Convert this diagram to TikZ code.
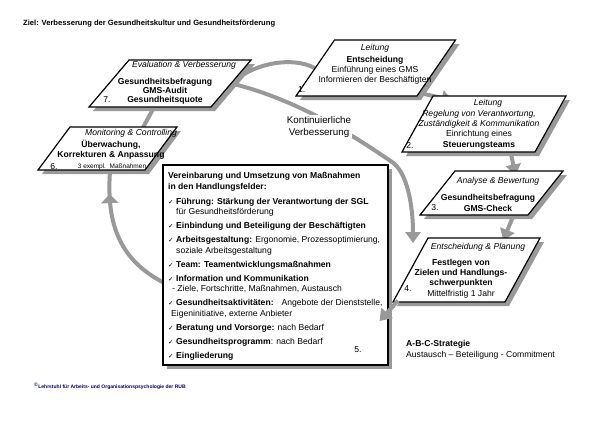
\documentclass[tikz,border=0pt]{standalone}
\usepackage{fontspec}
\setmainfont{Liberation Sans}
\newfontfamily\symfnt{DejaVu Sans}
\usetikzlibrary{arrows.meta,shadows,calc,backgrounds,decorations.markings}

\newcommand{\bxfont}{\fontsize{8.6}{10.2}\selectfont}
\newcommand{\chk}{{\symfnt\fontsize{6.5}{10}\selectfont ✓}\hspace{2.5pt}}

\begin{document}
\begin{tikzpicture}[x=1pt, y=-1pt,
    para/.style = {draw, line width=1.2pt, fill=white, inner sep=0pt,
      drop shadow={shadow xshift=4pt, shadow yshift=-4pt, fill=black!40, opacity=1}},
    flow/.style = {draw=black!40, line width=4pt},
    flowhead/.style = {flow, -{Triangle[width=15pt, length=11pt]}},
    hd/.style = {font=\bxfont\itshape, inner sep=0pt},
    txt/.style = {font=\bxfont, align=center, inner sep=0pt},
    nr/.style = {font=\bxfont, inner sep=0pt}]
  \useasboundingbox (0,0) rectangle (600,421);

  \node[anchor=west, font=\fontsize{7.6}{9}\selectfont\bfseries, inner sep=0pt] (ziel) at (23,24)
    {Ziel: Verbesserung der Gesundheitskultur und Gesundheitsförderung};

  % die Schritte 1 bis 7
  \node[para, xslant=0.744, minimum width=107, minimum height=43] (b6) at (107.5,148.5) {};
  \node[para, xslant=0.851, minimum width=122, minimum height=47] (b7) at (170,83.5) {};
  \node[para, xslant=0.688, minimum width=121, minimum height=56] (b1) at (375.75,68) {};
  \node[para, xslant=0.554, minimum width=133, minimum height=56] (b2) at (484,124) {};
  \node[para, xslant=0.795, minimum width=108, minimum height=44] (b3) at (491.5,193) {};
  \node[para, minimum width=225, minimum height=200] (b5) at (275.5,265) {};
  \node[para, xslant=0.547, minimum width=112, minimum height=64] (b4) at (466.5,270) {};

  % Leitung
  \node[hd] (h1) at (375,48) {Leitung};
  \node[txt] (t1) at (375,70.5) {\textbf{Entscheidung}\\Einführung eines GMS\\Informieren der Beschäftigten};
  \node[nr, anchor=west] (n1) at (298,90) {1.};

  \node[hd] (h2) at (488,103) {Leitung};
  \node[txt] (t2) at (479,129.5) {\textit{Regelung von Verantwortung,}\\\textit{Zuständigkeit \& Kommunikation}\\Einrichtung eines\\\textbf{Steuerungsteams}};
  \node[nr] (n2) at (410,145) {2.};

  \node[hd] (h3) at (498,181) {Analyse \& Bewertung};
  \node[txt, font=\bxfont\bfseries] (t3) at (488,203) {Gesundheitsbefragung\\GMS-Check};
  \node[nr] (n3) at (435,208) {3.};

  \node[hd] (h4) at (478,247) {Entscheidung \& Planung};
  \node[txt] (t4) at (461,278.5) {\textbf{Festlegen von}\\\textbf{Zielen und Handlungs-}\\\textbf{schwerpunkten}\\Mittelfristig 1 Jahr};
  \node[nr] (n4) at (408,289) {4.};

  \node[anchor=west, font=\bxfont\bfseries, align=left, inner sep=0pt] (t5) at (168,266.5) {%
    Vereinbarung und Umsetzung von Maßnahmen\\
    in den Handlungsfelder:\\[5pt]
    \chk Führung: Stärkung der Verantwortung der SGL\\
    \hspace*{8pt}{\mdseries für Gesundheitsförderung}\\[4pt]
    \chk Einbindung und Beteiligung der Beschäftigten\\[4pt]
    \chk Arbeitsgestaltung: {\mdseries Ergonomie, Prozessoptimierung,}\\
    \hspace*{8pt}{\mdseries soziale Arbeitsgestaltung}\\[4pt]
    \chk Team: Teamentwicklungsmaßnahmen\\[4pt]
    \chk Information und Kommunikation\\
    \hspace*{4pt}{\mdseries - Ziele, Fortschritte, Maßnahmen, Austausch}\\[4pt]
    \chk Gesundheitsaktivitäten:\hspace{8pt}{\mdseries Angebote der Dienststelle,}\\
    \hspace*{3pt}{\mdseries Eigeninitiative, externe Anbieter}\\[4pt]
    \chk Beratung und Vorsorge: {\mdseries nach Bedarf}\\[4pt]
    \chk Gesundheitsprogramm{\mdseries : nach Bedarf}\\[4pt]
    \chk Eingliederung};
  \node[nr] (n5) at (358,350) {5.};

  \node[hd] (h6) at (131,133) {Monitoring \& Controlling};
  \node[txt, font=\bxfont\bfseries] (t6) at (111,150) {Überwachung,\\Korrekturen \& Anpassung};
  \node[nr] (n6) at (54,167) {6.};
  \node[font=\fontsize{6.5}{8}\selectfont, inner sep=0pt] (m6) at (112,167) {3 exempl.\ \ Maßnahmen};

  \node[hd] (h7) at (184,65) {Evaluation \& Verbesserung};
  \node[txt, font=\fontsize{8.6}{9}\selectfont\bfseries] (t7) at (165,91.5) {Gesundheitsbefragung\\GMS-Audit\\Gesundheitsquote};
  \node[nr] (n7) at (107,100) {7.};

  \node[font=\fontsize{9.8}{12}\selectfont, align=center, fill=white, inner sep=1pt] (kv) at (319,127)
    {Kontinuierliche\\Verbesserung};

  \node[anchor=west, font=\bxfont\bfseries, inner sep=0pt] (abc) at (406,344) {A-B-C-Strategie};
  \node[anchor=west, font=\bxfont, inner sep=0pt] (abc2) at (406,355) {Austausch – Beteiligung - Commitment};

  \node[anchor=west, font=\fontsize{5}{6}\selectfont\bfseries, text=blue!40!black, inner sep=0pt] (lehrstuhl) at (34,386)
    {\textsuperscript{©}Lehrstuhl für Arbeits- und Organisationspsychologie der RUB};

  \coordinate (k4) at (413,243);

  % graue Pfeile hinter den Kaesten
  \begin{pgfonlayer}{background}
    \draw[flow] (b7.east) .. controls (250,65) and (290,55) .. (b1.west);
    \draw[flow] ($(b6.north)+(18,3)$) -- ($(b7.south)+(6,-3)$);
    \draw[flowhead] (b7.east) .. controls (300,100) and (360,140) .. (392,162)
      .. controls (407,172) and (413,205) .. (k4);
    \draw[flowhead] ($(b1.south east)+(-8,-6)$) -- ($(b2.north west)+(20,5)$);
    \draw[flowhead] ($(b2.south)+(42,-3)$) -- ($(b3.north)+(6,5)$);
    \draw[flowhead] ($(b3.south)+(41,-3)$) -- ($(b4.north)+(19,3)$);
    \draw[flow, postaction={decorate}, decoration={markings,
        mark=at position 0.83 with {\arrow[black!40]{Triangle[width=17pt, length=9pt]}}}]
      ($(b5.west)+(6,20)$) .. controls (120,262) and (106,225) .. ($(b6.south)+(19,0)$);
  \end{pgfonlayer}
  \draw[flowhead] ($(b4.south west)+(6,-2)$) -- ($(b5.east)+(-9,56)$);
\end{tikzpicture}
\end{document}
